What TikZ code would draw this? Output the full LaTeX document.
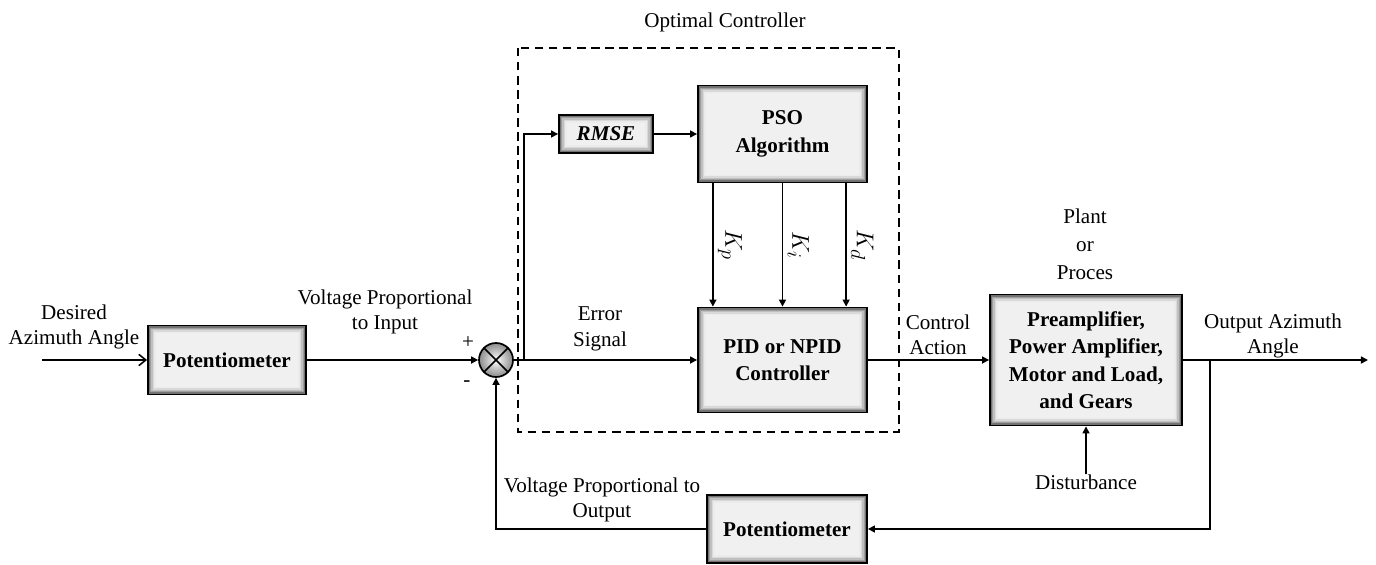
\documentclass[tikz,border=0pt]{standalone}
\usepackage{fontspec}
\setmainfont{Liberation Serif}
\usetikzlibrary{arrows.meta,positioning,calc}

\tikzset{
  blockbox/.style={draw=black, line width=1.3pt, fill=black!6, align=center, inner sep=2pt,
    font=\bfseries\fontsize{15}{19.5}\selectfont,
    path picture={
      \foreach \d/\c in {1/55,2/38,3/25,4/15,5/8}
        \draw[line width=1.1pt, black!\c]
          ([shift={(\d pt,\d pt)}]path picture bounding box.south west) rectangle
          ([shift={(-\d pt,-\d pt)}]path picture bounding box.north east);
    }},
  sumjunc/.style={circle, draw, line width=1.2pt, inner sep=0pt, minimum size=0.85cm,
    inner color=white, outer color=black!45},
  sig/.style={line width=1.1pt, -{Triangle[length=5pt,width=5pt]}},
  lbl/.style={align=center, font=\fontsize{15}{18}\selectfont, inner sep=0pt},
}

\begin{document}
\begin{tikzpicture}[x=0.025cm, y=-0.025cm]
  \useasboundingbox (0,0) rectangle (1376,565);
  % Optimal controller frame
  \draw[line width=1.1pt, dash pattern=on 6pt off 4pt] (518,48) rectangle (899,432);
  \node[lbl] (optlbl) at (725,22) {Optimal Controller};
  % Blocks
  \node[blockbox, minimum width=3.95cm, minimum height=1.725cm] (pot1) at (227,360) {Potentiometer};
  \node[sumjunc] (sum) at (496,360) {};
  \draw[line width=1.1pt] (sum.north west) -- (sum.south east) (sum.north east) -- (sum.south west);
  \node[blockbox, minimum width=2.35cm, minimum height=0.95cm] (rmse) at (606,134) {\textit{RMSE}};
  \node[blockbox, minimum width=4.225cm, minimum height=2.425cm] (pso) at (782.5,134) {PSO\\Algorithm};
  \node[blockbox, minimum width=4.225cm, minimum height=2.625cm] (pid) at (782.5,360) {PID or NPID\\Controller};
  \node[blockbox, minimum width=4.8cm, minimum height=3.275cm] (plant) at (1086,360)
    {Preamplifier,\\Power Amplifier,\\Motor and Load,\\and Gears};
  \node[blockbox, minimum width=4cm, minimum height=1.7cm] (pot2) at (787,529) {Potentiometer};
  % Labels
  \node[lbl] (desired) at (74,327) {Desired\\Azimuth Angle};
  \node[lbl] (vin) at (385,312) {Voltage Proportional\\to Input};
  \node[lbl] (plus) at (468,343) {+};
  \node[lbl] (minus) at (467,384) {-};
  \node[lbl] (err) at (600,329) {Error\\Signal};
  \node[lbl] (ctrl) at (938,335) {Control\\Action};
  \node[lbl, font=\fontsize{15}{20}\selectfont] (plantlbl) at (1085,244) {Plant\\or\\Proces};
  \node[lbl] (youtlbl) at (1273,336) {Output Azimuth\\Angle};
  \node[lbl] (vout) at (602,500) {Voltage Proportional to\\Output};
  \node[lbl] (dist) at (1086,482) {Disturbance};
  % Forward path
  \coordinate (xin) at (42,360);
  \coordinate (tapE) at (524,360);
  \coordinate (tapY) at (1210,360);
  \coordinate (yout) at (1368,360);
  \draw[line width=1.1pt, -{Straight Barb[length=5pt,width=8pt]}] (xin) -- (pot1.west);
  \draw[sig] (pot1.east) -- (sum.west);
  \draw[sig] (sum.east) -- (pid.west);
  \draw[sig] (tapE) |- (rmse.west);
  \draw[sig] (rmse.east) -- (pso.west);
  \foreach \dx/\k in {-1.74/p, 0/i, 1.59/d}
    \draw[sig] ([xshift=\dx cm]pso.south) -- ([xshift=\dx cm]pid.north)
      node[midway, rotate=-90, anchor=south, inner sep=3pt, font=\fontsize{19}{22}\selectfont] {$K_\k$};
  \draw[sig] (pid.east) -- (plant.west);
  \draw[sig] (plant.east) -- (yout);
  \draw[sig] (dist.north) -- (plant.south);
  % Feedback path
  \draw[sig] (tapY) |- (pot2.east);
  \draw[sig] (pot2.west) -| (sum.south);
\end{tikzpicture}
\end{document}
